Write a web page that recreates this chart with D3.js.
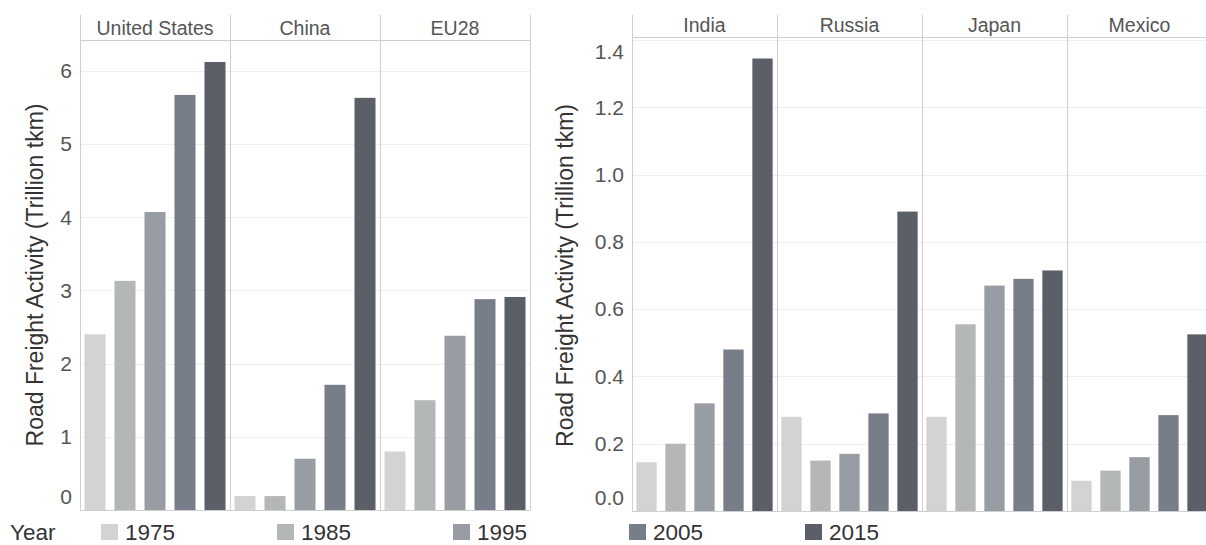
<!DOCTYPE html>
<html>
<head>
<meta charset="utf-8">
<script src="https://cdn.jsdelivr.net/npm/d3@7"></script>
<style>
  body { margin: 0; background: #fff; }
  text { font-family: "Liberation Sans", Arial, sans-serif; }
</style>
</head>
<body>
<script>
var years = ["1975", "1985", "1995", "2005", "2015"];
var colors = ["#d3d3d3", "#b4b7b8", "#989ca3", "#777d89", "#5b5f68"];

var leftRegions = ["United States", "China", "EU28"];
var usValues = [2.40, 3.13, 4.07, 5.67, 6.12];
var chinaValues = [0.19, 0.19, 0.70, 1.71, 5.63];
var euValues = [0.80, 1.50, 2.38, 2.88, 2.91];
var leftTicks = [0, 1, 2, 3, 4, 5, 6];

var rightRegions = ["India", "Russia", "Japan", "Mexico"];
var indiaValues = [0.145, 0.20, 0.32, 0.48, 1.345];
var russiaValues = [0.28, 0.15, 0.17, 0.29, 0.89];
var japanValues = [0.28, 0.555, 0.67, 0.69, 0.715];
var mexicoValues = [0.09, 0.12, 0.16, 0.285, 0.525];
var rightTicks = [0, 0.2, 0.4, 0.6, 0.8, 1.0, 1.2, 1.4];

var svg = d3.select("body").append("svg")
    .attr("width", 1206)
    .attr("height", 545);

function panel(opts) {
  var g = svg.append("g");
  var fx = d3.scaleBand().domain(opts.regions).range([opts.x0, opts.x1]);
  var bx = d3.scaleBand().domain(years).range([0, fx.bandwidth()])
      .paddingInner(0.3).paddingOuter(0.15);
  var y = d3.scaleLinear().domain([0, opts.ymax]).range([opts.bottom, opts.ytop]);

  // gridlines
  g.selectAll(".grid").data(opts.ticks.slice(1)).enter().append("line")
      .attr("x1", opts.x0).attr("x2", opts.x1)
      .attr("y1", function(d) { return Math.round(y(d)) + 0.5; })
      .attr("y2", function(d) { return Math.round(y(d)) + 0.5; })
      .attr("stroke", "#efefef").attr("stroke-width", 1);

  // bars
  opts.regions.forEach(function(r, i) {
    var vals = opts.values[i];
    g.selectAll(".bar" + i).data(vals).enter().append("rect")
        .attr("x", function(d, j) { return fx(r) + bx(years[j]); })
        .attr("width", bx.bandwidth())
        .attr("y", function(d) { return y(d); })
        .attr("height", function(d) { return opts.bottom - y(d); })
        .attr("fill", function(d, j) { return colors[j]; });
  });

  // facet dividers and header
  var edges = opts.regions.map(function(r) { return fx(r); }).concat(opts.showLastEdge ? [opts.x1] : []);
  g.selectAll(".div").data(edges).enter().append("line")
      .attr("x1", function(d) { return Math.round(d) + 0.5; })
      .attr("x2", function(d) { return Math.round(d) + 0.5; })
      .attr("y1", 15).attr("y2", opts.bottom)
      .attr("stroke", "#cfcfcf");
  g.append("line")
      .attr("x1", opts.x0).attr("x2", opts.x1)
      .attr("y1", opts.headerY + 0.5).attr("y2", opts.headerY + 0.5)
      .attr("stroke", "#cfcfcf");
  g.append("line")
      .attr("x1", opts.x0).attr("x2", opts.x1)
      .attr("y1", opts.bottom + 0.5).attr("y2", opts.bottom + 0.5)
      .attr("stroke", "#cfcfcf");

  g.selectAll(".hdr").data(opts.regions).enter().append("text")
      .attr("x", function(d) { return fx(d) + fx.bandwidth() / 2; })
      .attr("y", opts.headerY - 5)
      .attr("text-anchor", "middle")
      .attr("font-size", 19.5)
      .attr("fill", "#555")
      .text(function(d) { return d; });

  // y tick labels (edge labels pushed inside like the source)
  g.selectAll(".tick").data(opts.ticks).enter().append("text")
      .attr("x", opts.x0 - 8)
      .attr("y", function(d) {
        var p = y(d);
        return Math.max(opts.ytop + 12, Math.min(opts.bottom - 13, p));
      })
      .attr("dy", "0.35em")
      .attr("text-anchor", "end")
      .attr("font-size", 21)
      .attr("fill", "#555")
      .text(opts.fmt);

  g.append("text")
      .attr("transform", "translate(" + opts.titleX + "," + (opts.ytop + opts.bottom) / 2 + ") rotate(-90)")
      .attr("text-anchor", "middle")
      .attr("dy", "0.35em")
      .attr("font-size", 23)
      .attr("fill", "#333")
      .text("Road Freight Activity (Trillion tkm)");
}

panel({
  regions: leftRegions,
  values: [usValues, chinaValues, euValues],
  x0: 80, x1: 530, ytop: 40, bottom: 510, ymax: 6.42, headerY: 40,
  ticks: leftTicks, fmt: d3.format("d"), titleX: 35, showLastEdge: true
});

panel({
  regions: rightRegions,
  values: [indiaValues, russiaValues, japanValues, mexicoValues],
  x0: 632, x1: 1212, ytop: 40, bottom: 511, ymax: 1.4, headerY: 37,
  ticks: rightTicks, fmt: d3.format(".1f"), titleX: 565, showLastEdge: false
});

// legend
var legend = svg.append("g");
legend.append("text")
    .attr("x", 10).attr("y", 540)
    .attr("font-size", 22.5).attr("fill", "#333")
    .text("Year");
var lx = d3.scaleBand().domain(years).range([101, 981]);
var items = legend.selectAll(".item").data(years).enter().append("g")
    .attr("transform", function(d) { return "translate(" + lx(d) + ",0)"; });
items.append("rect")
    .attr("x", 0).attr("y", 524).attr("width", 17).attr("height", 16)
    .attr("fill", function(d, i) { return colors[i]; });
items.append("text")
    .attr("x", 24).attr("y", 540)
    .attr("font-size", 22.5).attr("fill", "#333")
    .text(function(d) { return d; });
</script>
</body>
</html>
